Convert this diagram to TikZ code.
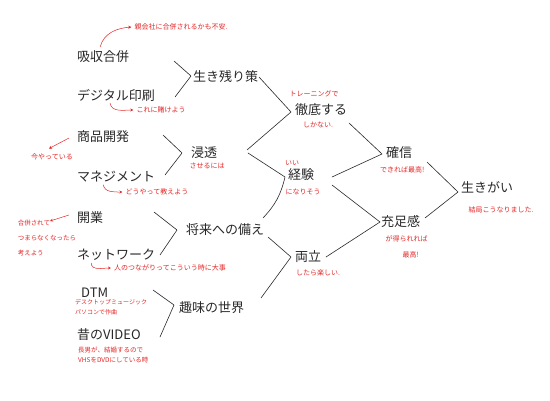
\documentclass[tikz,border=0pt]{standalone}
\usepackage{fontspec}
\setmainfont{Noto Sans CJK JP}
\usetikzlibrary{arrows.meta, positioning, calc}
\definecolor{penred}{RGB}{228,38,38}
\definecolor{penblack}{RGB}{40,40,40}

\begin{document}
\begin{tikzpicture}[
    x=1pt, y=1pt,
    term/.style={
        inner sep=1pt, anchor=west, text=penblack,
        font=\fontsize{13}{15}\selectfont
    },
    memo/.style={
        inner sep=1pt, text=penred, align=center,
        font=\fontsize{7}{9}\selectfont
    },
    link/.style={draw=penblack, line width=0.6pt, line cap=round, line join=round},
    pointer/.style={-{Stealth[length=3pt, width=3pt]}, draw=penred, line width=0.5pt}
]

\useasboundingbox (0,0) rectangle (550,400);

% First column: the things I work on
\node[term] (kyushu)  at (76,343) {吸収合併};
\node[term] (digital) at (76,305) {デジタル印刷};
\node[term] (shohin)  at (76,263) {商品開発};
\node[term] (manage)  at (76,223) {マネジメント};
\node[term] (kaigyo)  at (76,182) {開業};
\node[term] (network) at (76,145) {ネットワーク};
\node[term] (dtm)     at (80,107) {DTM};
\node[term] (video)   at (76,65)  {昔のVIDEO};

% Second column
\node[term] (ikinokori) at (192,323) {生き残り策};
\node[term] (shinto)    at (190,247) {浸透};
\node[term] (shorai)    at (185,170) {将来への備え};
\node[term] (shumi)     at (178,92)  {趣味の世界};

% Third column
\node[term] (tettei)   at (294,290) {徹底する};
\node[term] (keiken)   at (287,225) {経験};
\node[term] (ryoritsu) at (294,143) {両立};

% Fourth and last column
\node[term] (kakushin) at (385,247) {確信};
\node[term] (jusoku)   at (380,178) {充足感};
\node[term] (ikigai)   at (460,213) {生きがい};

% Red notes with a pointer
\node[memo] (fuan)     at (181,373) {親会社に合併されるかも不安.};
\node[memo] (kakeyou)  at (161,290) {これに賭けよう};
\node[memo] (imayatte) at (52,243)  {今やっている};
\node[memo] (oshieyou) at (157,208) {どうやって教えよう};
\node[memo, align=left, font=\fontsize{6.5}{15}\selectfont]
    (kangaeyou) at (47,162) {合併されて\\つまらなくなったら\\考えよう};
\node[memo] (daiji)    at (170,132) {人のつながりってこういう時に大事};

\draw[pointer] ($(kyushu.north)+(-3,3)$) to[out=75, in=185] ($(fuan.west)+(-2,0)$);
\draw[pointer] ($(digital.south)+(-6,-1)$) to[out=-80, in=180] ($(kakeyou.west)+(-2,0)$);
\draw[pointer] ($(shohin.west)+(-7,-1)$) -- ($(imayatte.north)+(-3,4)$);
\draw[pointer] ($(manage.south)+(-13,-1)$) to[out=-80, in=180] ($(oshieyou.west)+(-2,0)$);
\draw[pointer] ($(kaigyo.west)+(-7,3)$) -- ($(kaigyo.west)+(-26,-3)$);
\draw[pointer] ($(network.south)+(-25,-1)$) to[out=-90, in=180] ($(daiji.west)+(-2,0)$);

% Small notes under DTM and VIDEO
\node[memo, anchor=west, align=left, font=\fontsize{6}{10}\selectfont]
    (desktop) at (74,93) {デスクトップミュージック\\パソコンで作曲};
\node[memo, below=4pt of video.south west, anchor=north west, xshift=1pt,
      align=left, font=\fontsize{6.5}{10}\selectfont]
    (kekkon) {長男が、結婚するので\\VHSをDVDにしている時};

% Notes above and below the right-hand words
\node[memo, below=2pt of shinto, xshift=3pt]    (saseru)   {させるには};
\node[memo, above=5pt of tettei, xshift=-7pt]   (training) {トレーニングで};
\node[memo, below=3pt of tettei, xshift=-3pt]   (shikanai) {しかない.};
\node[memo, above=1pt of keiken, xshift=-9pt]   (ii)       {いい};
\node[memo, below=5pt of keiken, xshift=2pt]    (narisou)  {になりそう};
\node[memo, below=4pt of ryoritsu, xshift=10pt] (tanoshii) {したら楽しい.};
\node[memo, below=5pt of kakushin, xshift=3pt]  (saiko)    {できれば最高!};
\node[memo, below=5pt of jusoku, xshift=6pt]    (erareba)  {が得られれば\\[7pt]\hspace{8pt}最高!};
\node[memo, below=11pt of ikigai, xshift=14pt]  (kekkyoku) {結局こうなりました.};

% Brackets joining two words into the next one
\draw[link] ($(kyushu.east -| ikinokori.west)+(-18,-4)$) -- ($(ikinokori.west)+(-1,1)$)
            -- ($(digital.east -| ikinokori.west)+(-17,-2)$);
\draw[link] ($(shohin.east -| shinto.west)+(-27,2)$) -- ($(shinto.west)+(-8,0)$)
            -- ($(manage.east -| shinto.west)+(-25,2)$);
\draw[link] ($(kaigyo.east -| shorai.west)+(-31,6)$) -- ($(shorai.west)+(-8,0)$)
            -- ($(network.east -| shorai.west)+(-25,0)$);
\draw[link] ($(dtm.east -| shumi.west)+(-25,3)$) -- ($(shumi.west)+(-4,3)$)
            -- ($(video.east -| shumi.west)+(-18,-2)$);

\draw[link] ($(ikinokori.east -| tettei.west)+(-35,0)$) -- ($(tettei.west)+(-3,-2)$)
            -- ($(shinto.east -| tettei.west)+(-47,3)$);
\draw[link] ($(shinto.east -| keiken.west)+(-39,0)$) -- ($(keiken.west)+(-2,-2)$)
            to[bend left=15] ($(shorai.east -| keiken.west)+(-24,12)$);
\draw[link] ($(shorai.east -| ryoritsu.west)+(-26,-7)$) -- ($(ryoritsu.west)+(-3,0)$)
            -- ($(shumi.east -| ryoritsu.west)+(-33,10)$);

\draw[link] ($(tettei.east -| kakushin.west)+(-36,-13)$) -- ($(kakushin.west)+(-3,-1)$)
            -- ($(keiken.east -| kakushin.west)+(-53,-2)$);
\draw[link] ($(keiken.east -| jusoku.west)+(-48,-10)$) -- (jusoku.west)
            -- ($(ryoritsu.east -| jusoku.west)+(-54,0)$);

\draw[link] ($(kakushin.east -| ikigai.west)+(-33,-9)$) -- ($(ikigai.west)+(-2,-5)$)
            -- ($(jusoku.east -| ikigai.west)+(-35,4)$);

\end{tikzpicture}
\end{document}
